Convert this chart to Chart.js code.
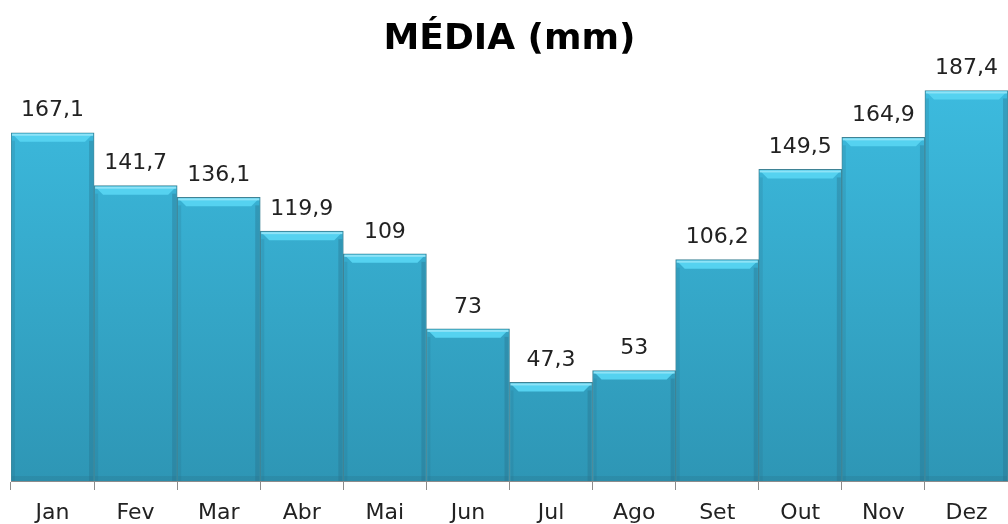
<!DOCTYPE html>
<html>
<head>
<meta charset="utf-8">
<script src="https://cdn.jsdelivr.net/npm/chart.js@4"></script>
<style>
  html, body { margin: 0; padding: 0; background: #fff; }
  #wrap { width: 1008px; height: 524px; }
</style>
</head>
<body>
<div id="wrap"><canvas id="myChart" width="1008" height="524"></canvas></div>
<script>
var meses = ['Jan', 'Fev', 'Mar', 'Abr', 'Mai', 'Jun', 'Jul', 'Ago', 'Set', 'Out', 'Nov', 'Dez'];
var media = [167.1, 141.7, 136.1, 119.9, 109, 73, 47.3, 53, 106.2, 149.5, 164.9, 187.4];
var titulo = 'MÉDIA (mm)';

// gradient fill for the bars
function barFill(context) {
    var chart = context.chart;
    var area = chart.chartArea;
    if (!area) return '#38b3d6';
    var g = chart.ctx.createLinearGradient(0, area.top, 0, area.bottom);
    g.addColorStop(0, '#3dbde1');
    g.addColorStop(1, '#2e96b5');
    return g;
}

// top bevel + value labels
var bevelLabels = {
    id: 'bevelLabels',
    afterDatasetsDraw: function(chart) {
        var ctx = chart.ctx;
        var meta = chart.getDatasetMeta(0);
        ctx.save();
        meta.data.forEach(function(bar, i) {
            var half = bar.width / 2;
            var l = bar.x - half + 1, r = bar.x + half - 1, t = bar.y + 1, b = bar.base;
            // bevel on top
            ctx.fillStyle = '#55d2f0';
            ctx.beginPath();
            ctx.moveTo(l, t);
            ctx.lineTo(r, t);
            ctx.lineTo(r - 8, t + 8);
            ctx.lineTo(l + 8, t + 8);
            ctx.closePath();
            ctx.fill();
            ctx.fillStyle = '#8ee3f7';
            ctx.fillRect(l, t, r - l, 2);
            // darker sides
            ctx.fillStyle = 'rgba(40,110,135,0.35)';
            ctx.fillRect(r - 4, t + 7, 4, b - t - 7);
            ctx.fillStyle = 'rgba(40,110,135,0.2)';
            ctx.fillRect(l, t + 7, 3, b - t - 7);
            ctx.fillStyle = 'rgba(40,110,135,0.25)';
            ctx.fillRect(l, b - 5, r - l, 5);
            // value label
            ctx.fillStyle = '#222';
            ctx.font = '22px "DejaVu Sans"';
            ctx.textAlign = 'center';
            ctx.textBaseline = 'middle';
            ctx.fillText(String(media[i]).replace('.', ','), bar.x, bar.y - 22);
        });
        ctx.restore();
    }
};

var ctx = document.getElementById('myChart').getContext('2d');
var myChart = new Chart(ctx, {
    type: 'bar',
    data: {
        labels: meses,
        datasets: [{
            label: titulo,
            data: media,
            backgroundColor: barFill,
            borderColor: '#3f8395',
            borderWidth: 1,
            borderSkipped: 'bottom',
            categoryPercentage: 1,
            barPercentage: 1
        }]
    },
    options: {
        responsive: false,
        animation: false,
        layout: { padding: { left: 11, right: 0, top: 0, bottom: -12 } },
        plugins: {
            legend: { display: false },
            tooltip: { enabled: false },
            title: {
                display: true,
                text: titulo,
                color: '#000',
                font: { family: 'DejaVu Sans', size: 36, weight: 'bold', lineHeight: 1.2 },
                padding: { top: 18, bottom: 3 }
            }
        },
        scales: {
            x: {
                grid: { drawOnChartArea: false, tickLength: 9, color: '#8c8c8c' },
                border: { color: '#8c8c8c', width: 1 },
                ticks: {
                    color: '#222',
                    font: { family: 'DejaVu Sans', size: 22, lineHeight: 1 },
                    padding: 12
                }
            },
            y: {
                display: false,
                min: 0,
                max: 200
            }
        }
    },
    plugins: [bevelLabels]
});
</script>
</body>
</html>
